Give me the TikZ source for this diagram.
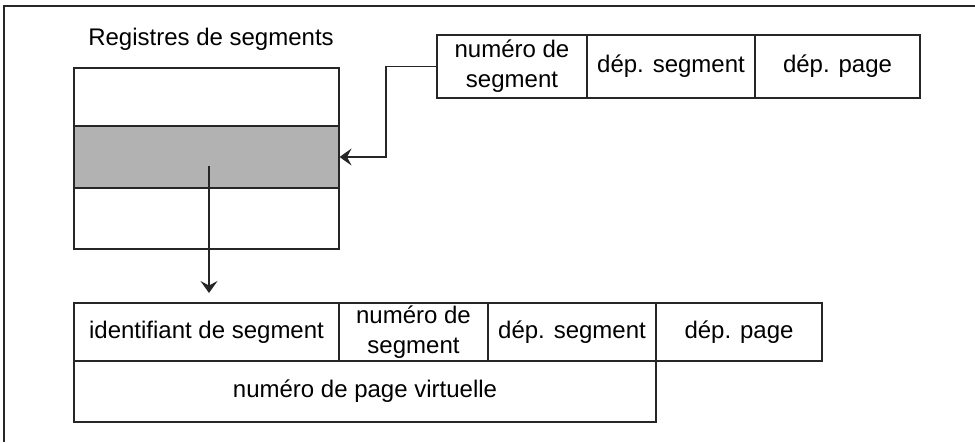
\documentclass[tikz,border=0pt]{standalone}
\usepackage{fontspec}
\setmainfont{Liberation Sans}
\usetikzlibrary{arrows.meta}

\tikzset{
    cell/.style={draw=black!85, line width=1.1pt, inner sep=0pt, align=center,
      font=\fontsize{24}{30}\selectfont},
    selcell/.style={cell, fill=black!30},
    frameline/.style={draw=black!85, line width=1.3pt},
}

\begin{document}
\begin{tikzpicture}[x=1pt, y=-1pt, >={Stealth[length=12pt,width=17pt,inset=4.5pt]}]
    \useasboundingbox (0,0) rectangle (975,442);
    \draw[frameline] (975,6) -- (4,6) -- (4,442);

    \node[font=\fontsize{24}{30}\selectfont, anchor=base] (title) at (211,45) {Registres de segments};

    \node[cell, minimum width=265pt, minimum height=58pt] (regtop) at (206.5,97) {};
    \node[selcell, minimum width=265pt, minimum height=62pt] (regsel) at (206.5,157) {};
    \node[cell, minimum width=265pt, minimum height=61pt] (regbot) at (206.5,218.5) {};

    \node[cell, minimum width=150pt, minimum height=63pt] (tnum) at (512,66.5) {numéro de\\segment};
    \node[cell, minimum width=168pt, minimum height=63pt] (tdseg) at (671,66.5) {dép. segment};
    \node[cell, minimum width=165pt, minimum height=63pt] (tdpage) at (837.5,66.5) {dép. page};

    \node[cell, minimum width=265pt, minimum height=58pt] (lid) at (206.5,332) {identifiant de segment};
    \node[cell, minimum width=149pt, minimum height=58pt] (lnum) at (413.5,332) {numéro de\\segment};
    \node[cell, minimum width=168pt, minimum height=58pt] (ldseg) at (572,332) {dép. segment};
    \node[cell, minimum width=166pt, minimum height=58pt] (ldpage) at (739,332) {dép. page};
    \node[cell, minimum width=582pt, minimum height=61pt] (lvpn) at (365,391.5) {numéro de page virtuelle};

    \coordinate (bend) at (386,66.5);
    \coordinate (selout) at (209,166);
    \coordinate (down) at (209,293);
    \draw[->,line width=1.1pt,black!85] (tnum.west) -- (bend) |- (regsel.east);
    \draw[->,line width=1.1pt,black!85] (selout) -- (down);
\end{tikzpicture}
\end{document}
